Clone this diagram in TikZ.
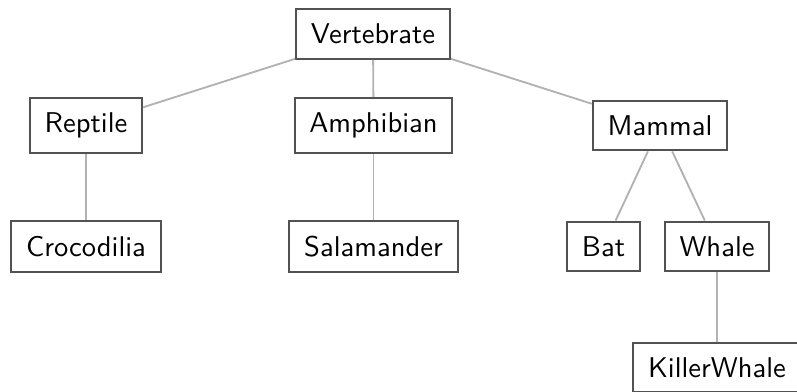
\documentclass[tikz,border=0pt]{standalone}
\usepackage{fontspec}
\begin{document}
\begin{tikzpicture}[x=0.35pt,y=-0.35pt,
  taxon/.style={draw=black!68,line width=0.7pt,fill=white,inner sep=5.2pt,font=\sffamily},
  link/.style={draw=black!30,line width=0.65pt}]
\useasboundingbox (0,0) rectangle (797,391);
\clip (0,0) rectangle (797,391);
\node[taxon] (vert) at (373,34) {Vertebrate};
\node[taxon] (rep) at (86,125.5) {Reptile};
\node[taxon] (amp) at (373.5,125.5) {Amphibian};
\node[taxon] (mam) at (660,125.5) {Mammal};
\node[taxon] (croc) at (86,246.5) {Crocodilia};
\node[taxon] (sal) at (373.5,246.5) {Salamander};
\node[taxon] (bat) at (603.5,246.5) {Bat};
\node[taxon] (wha) at (717,246.5) {Whale};
\node[taxon] (kw) at (717,367.5) {KillerWhale};
\draw[link] (vert) -- (rep);
\draw[link] (vert) -- (amp);
\draw[link] (vert) -- (mam);
\draw[link] (rep) -- (croc);
\draw[link] (amp) -- (sal);
\draw[link] (mam) -- (bat);
\draw[link] (mam) -- (wha);
\draw[link] (wha) -- (kw);
\end{tikzpicture}
\end{document}
